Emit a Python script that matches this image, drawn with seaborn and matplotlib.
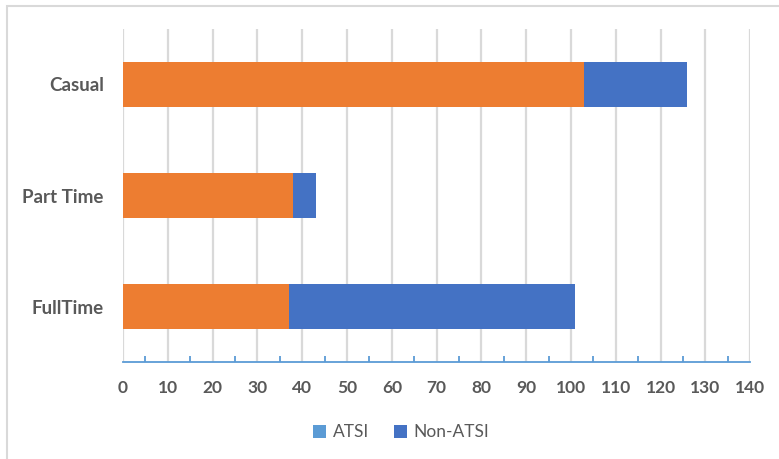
import matplotlib
matplotlib.use("Agg")
import matplotlib.pyplot as plt
from matplotlib.patches import Patch, Rectangle
from matplotlib.ticker import MultipleLocator
import seaborn as sns
import pandas as pd

# Employment type and head counts per group
categories = ["Casual", "Part Time", "FullTime"]
base_counts = [103, 38, 37]
atsi_counts = [0, 0, 0]
non_atsi_counts = [23, 5, 64]

series_names = ["ATSI", "Non-ATSI"]
x_ticks = list(range(0, 141, 10))

ORANGE = "#ED7D31"
LIGHT_BLUE = "#5B9BD5"
BLUE = "#4472C4"
TEXT = "#595959"
GRID = "#D9D9D9"

sns.set_theme(style="white")
plt.rcParams["font.family"] = ["Lato", "DejaVu Sans"]

df = pd.DataFrame({
    "category": categories,
    "base": base_counts,
    "atsi": atsi_counts,
    "non_atsi": non_atsi_counts,
})
df["atsi_end"] = df["base"] + df["atsi"]
df["total"] = df["atsi_end"] + df["non_atsi"]

fig = plt.figure(figsize=(7.79, 4.59), dpi=100)
ax = fig.add_axes([0.158, 0.211, 0.805, 0.726])

# Stacked horizontal bars: draw the cumulative totals from back to front
sns.barplot(data=df, x="total", y="category", order=categories, orient="h",
            color=BLUE, width=0.4, saturation=1, linewidth=0, ax=ax, zorder=3)
sns.barplot(data=df, x="atsi_end", y="category", order=categories, orient="h",
            color=LIGHT_BLUE, width=0.4, saturation=1, linewidth=0, ax=ax, zorder=3)
sns.barplot(data=df, x="base", y="category", order=categories, orient="h",
            color=ORANGE, width=0.4, saturation=1, linewidth=0, ax=ax, zorder=3)

ax.set_xlim(0, 140)
ax.set_ylim(2.5, -0.5)
ax.set_xticks(x_ticks)
ax.xaxis.set_minor_locator(MultipleLocator(5))
ax.set_xlabel("")
ax.set_ylabel("")

ax.grid(axis="x", color=GRID, linewidth=1.6, zorder=0)
ax.grid(axis="y", visible=False)
ax.set_axisbelow(True)

for side in ("top", "right", "left"):
    ax.spines[side].set_visible(False)
ax.spines["bottom"].set_color(LIGHT_BLUE)
ax.spines["bottom"].set_linewidth(1.3)

ax.tick_params(axis="x", which="major", direction="inout", length=10, width=1.3,
               color=LIGHT_BLUE, labelsize=12.5, labelcolor=TEXT, pad=8)
ax.tick_params(axis="x", which="minor", direction="in", length=4, width=1.3,
               color=LIGHT_BLUE, bottom=True)
ax.tick_params(axis="y", length=0, labelsize=13.5, labelcolor=TEXT, pad=14)
for lbl in ax.get_xticklabels() + ax.get_yticklabels():
    lbl.set_fontweight("bold")

handles = [Patch(facecolor=LIGHT_BLUE, edgecolor="none"),
           Patch(facecolor=BLUE, edgecolor="none")]
fig.legend(handles, series_names, loc="center", bbox_to_anchor=(0.515, 0.058),
           ncol=2, frameon=False, fontsize=12.5, labelcolor=TEXT,
           handlelength=0.75, handleheight=0.75, handletextpad=0.4,
           columnspacing=1.4)

# Chart area frame
fig.patches.append(Rectangle((7 / 779, -0.1), 1.2, 1 - 6 / 459 + 0.1,
                             transform=fig.transFigure, fill=False,
                             edgecolor=GRID, linewidth=1.5))

fig.savefig("out.png", dpi=100, facecolor="white")
